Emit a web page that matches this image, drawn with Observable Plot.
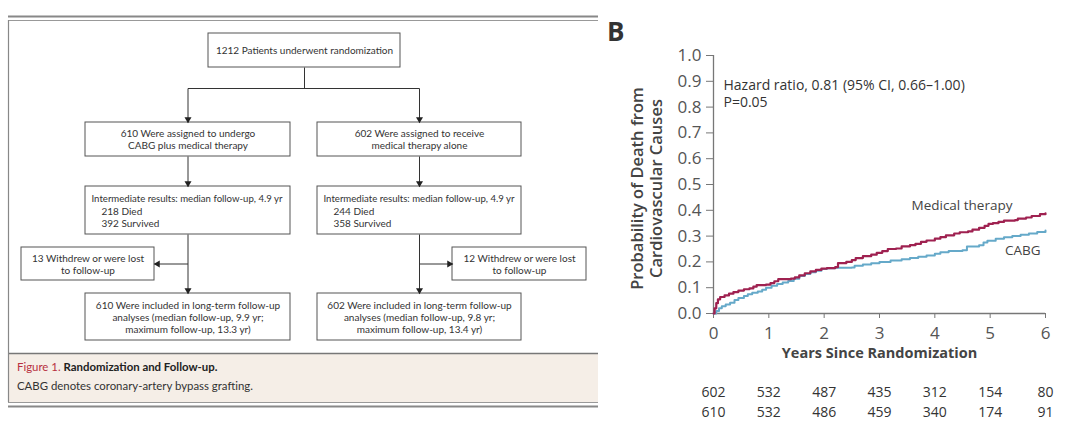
<!DOCTYPE html>
<html>
<head>
<meta charset="utf-8">
<script src="https://cdn.jsdelivr.net/npm/d3@7"></script>
<script src="https://cdn.jsdelivr.net/npm/@observablehq/plot@0.6"></script>
<style>
  html, body { margin: 0; padding: 0; background: #fff; }
  #wrap { position: relative; width: 1080px; height: 438px; overflow: hidden; background: #fff; }
  #panelA { position: absolute; left: 0; top: 0; }
  #panelB { position: absolute; left: 600px; top: 0; }
  .cap { position: absolute; left: 17px; font-family: Lato, "Open Sans", sans-serif; font-size: 11.4px; color: #333; white-space: nowrap; line-height: 1; }
  .cap .fig { color: #b8303f; }
  .cap b { color: #222; font-weight: 700; }
  #letterB { position: absolute; left: 607px; top: 18px; font-family: "Open Sans", sans-serif; font-weight: 700; font-size: 26px; color: #333; line-height: 1; }
</style>
</head>
<body>
<div id="wrap">
  <div id="panelA"></div>
  <div class="cap" id="cap1" style="top:361px"><span class="fig">Figure 1.</span> <b>Randomization and Follow-up.</b></div>
  <div class="cap" id="cap2" style="top:380px">CABG denotes coronary-artery bypass grafting.</div>
  <div id="letterB">B</div>
  <div id="panelB"></div>
</div>
<script>
// ---------------- DATA ----------------
// Panel B: cumulative probability of death from cardiovascular causes
const medYears = [0, 0.02, 0.05, 0.08, 0.12, 0.2, 0.28, 0.36, 0.45, 0.55, 0.65, 0.72, 0.78, 0.95, 1.03, 1.1, 1.17, 1.4, 1.47, 1.55, 1.65, 1.75, 1.85, 1.95, 2.05, 2.2, 2.25, 2.4, 2.5, 2.57, 2.7, 2.85, 2.95, 3.05, 3.15, 3.3, 3.4, 3.55, 3.65, 3.75, 3.85, 4.0, 4.1, 4.2, 4.35, 4.45, 4.6, 4.68, 4.8, 4.9, 4.97, 5.05, 5.15, 5.25, 5.45, 5.5, 5.65, 5.75, 5.9, 6.0];
const medProb  = [0, 0.02, 0.04, 0.055, 0.064, 0.07, 0.077, 0.083, 0.089, 0.094, 0.097, 0.104, 0.11, 0.112, 0.118, 0.125, 0.133, 0.135, 0.14, 0.148, 0.156, 0.163, 0.169, 0.174, 0.176, 0.18, 0.195, 0.2, 0.207, 0.215, 0.222, 0.228, 0.235, 0.242, 0.25, 0.252, 0.26, 0.265, 0.27, 0.278, 0.283, 0.29, 0.296, 0.303, 0.31, 0.315, 0.318, 0.325, 0.332, 0.34, 0.347, 0.35, 0.355, 0.36, 0.362, 0.368, 0.372, 0.378, 0.385, 0.388];
const cabgYears = [0, 0.05, 0.1, 0.15, 0.22, 0.3, 0.38, 0.45, 0.55, 0.62, 0.7, 0.8, 0.88, 0.95, 1.05, 1.15, 1.25, 1.35, 1.45, 1.55, 1.65, 1.75, 1.85, 1.95, 2.05, 2.2, 2.5, 2.55, 2.7, 2.85, 3.0, 3.2, 3.4, 3.55, 3.7, 3.85, 4.0, 4.1, 4.25, 4.5, 4.58, 4.8, 4.88, 4.95, 5.1, 5.25, 5.4, 5.55, 5.7, 5.85, 6.0];
const cabgProb  = [0, 0.01, 0.02, 0.028, 0.035, 0.042, 0.052, 0.06, 0.068, 0.075, 0.08, 0.085, 0.092, 0.1, 0.108, 0.114, 0.12, 0.126, 0.135, 0.145, 0.153, 0.16, 0.166, 0.172, 0.175, 0.177, 0.178, 0.185, 0.19, 0.195, 0.2, 0.205, 0.21, 0.215, 0.22, 0.225, 0.232, 0.237, 0.242, 0.245, 0.26, 0.265, 0.275, 0.282, 0.29, 0.296, 0.3, 0.305, 0.31, 0.316, 0.322];
const seriesNames = ["Medical therapy", "CABG"];
const xTicks = [0, 1, 2, 3, 4, 5, 6];
const yTicks = [0, 0.1, 0.2, 0.3, 0.4, 0.5, 0.6, 0.7, 0.8, 0.9, 1.0];
const atRiskYears = [0, 1, 2, 3, 4, 5, 6];
const atRiskMed  = [602, 532, 487, 435, 312, 154, 80];
const atRiskCABG = [610, 532, 486, 459, 340, 174, 91];
const annotation = "Hazard ratio, 0.81 (95% CI, 0.66\u20131.00)\nP=0.05";
const xTitle = "Years Since Randomization";
const yTitle = "Probability of Death from\nCardiovascular Causes";

// Panel A: flow diagram contents
const boxIds   = ["top", "assignL", "assignR", "midL", "midR", "wdL", "wdR", "finalL", "finalR"];
const boxTexts = [
  "1212 Patients underwent randomization",
  "610 Were assigned to undergo\nCABG plus medical therapy",
  "602 Were assigned to receive\nmedical therapy alone",
  "Intermediate results: median follow-up, 4.9 yr",
  "Intermediate results: median follow-up, 4.9 yr",
  "13 Withdrew or were lost\nto follow-up",
  "12 Withdrew or were lost\nto follow-up",
  "610 Were included in long-term follow-up\nanalyses (median follow-up, 9.9 yr;\nmaximum follow-up, 13.3 yr)",
  "602 Were included in long-term follow-up\nanalyses (median follow-up, 9.8 yr;\nmaximum follow-up, 13.4 yr)"
];
const boxSubTexts = ["", "", "", "218 Died\n392 Survived", "244 Died\n358 Survived", "", "", "", ""];

// ---------------- LAYOUT (diagram geometry, separate from data) ----------------
const cols = {
  center:   [208, 400],
  left:     [85, 290],
  right:    [317, 521],
  farLeft:  [21, 154],
  farRight: [452, 586]
};
const rows = { r0: [33, 67], r1: [122, 156], r2: [186, 234], r3: [247, 280], r4: [293, 340] };
const boxPlace = {
  top: ["center", "r0"], assignL: ["left", "r1"], assignR: ["right", "r1"],
  midL: ["left", "r2"], midR: ["right", "r2"], wdL: ["farLeft", "r3"], wdR: ["farRight", "r3"],
  finalL: ["left", "r4"], finalR: ["right", "r4"]
};
const splitY = 88;
const frame = { left: 8, right: 598, top1: 16, top2: 20, bandTop: 353, bandBottom: 402, bottom2: 406 };

const boxes = boxIds.map((id, i) => {
  const [c, r] = boxPlace[id];
  const [x1, x2] = cols[c], [y1, y2] = rows[r];
  return { id, x1, x2, y1, y2, cx: (x1 + x2) / 2, cy: (y1 + y2) / 2, text: boxTexts[i], sub: boxSubTexts[i] };
});
const B = Object.fromEntries(boxes.map(b => [b.id, b]));
const cxL = B.assignL.cx, cxR = B.assignR.cx, cxT = B.top.cx;
const branchY = B.wdL.cy;

const plainLinks = [
  { x1: cxT, y1: B.top.y2, x2: cxT, y2: splitY },
  { x1: cxL, y1: splitY, x2: cxR, y2: splitY }
];
const arrowLinks = [
  { x1: cxL, y1: splitY, x2: cxL, y2: B.assignL.y1, dir: "down" },
  { x1: cxR, y1: splitY, x2: cxR, y2: B.assignR.y1, dir: "down" },
  { x1: cxL, y1: B.assignL.y2, x2: cxL, y2: B.midL.y1, dir: "down" },
  { x1: cxR, y1: B.assignR.y2, x2: cxR, y2: B.midR.y1, dir: "down" },
  { x1: cxL, y1: B.midL.y2, x2: cxL, y2: B.finalL.y1, dir: "down" },
  { x1: cxR, y1: B.midR.y2, x2: cxR, y2: B.finalR.y1, dir: "down" },
  { x1: cxL, y1: branchY, x2: B.wdL.x2, y2: branchY, dir: "left" },
  { x1: cxR, y1: branchY, x2: B.wdR.x1, y2: branchY, dir: "right" }
];
const headOff = 3.2;
const dirVec = { down: [0, 1, 180], left: [-1, 0, -90], right: [1, 0, 90] };
const heads = arrowLinks.map(a => {
  const [dx, dy, rot] = dirVec[a.dir];
  return { x: a.x2 - dx * headOff, y: a.y2 - dy * headOff, rot };
});

const flowFont = "Lato, 'Open Sans', sans-serif";
const centered = boxes.filter(b => !b.id.startsWith("mid"));
const mids = boxes.filter(b => b.id.startsWith("mid"));

const flow = Plot.plot({
  width: 600, height: 438, margin: 0,
  x: { type: "identity", axis: null }, y: { type: "identity", axis: null },
  style: { fontFamily: flowFont, fontSize: "10px", color: "#333", background: "transparent" },
  marks: [
    Plot.rect([frame], { x1: "left", x2: "right", y1: "bandTop", y2: "bandBottom", fill: "#f5eee7" }),
    Plot.ruleY([frame.top1], { x1: frame.left, x2: frame.right, stroke: "#888", strokeWidth: 2 }),
    Plot.ruleY([frame.top2], { x1: frame.left, x2: frame.right, stroke: "#999", strokeWidth: 1 }),
    Plot.ruleY([frame.bandTop], { x1: frame.left, x2: frame.right, stroke: "#777", strokeWidth: 1.5 }),
    Plot.ruleY([frame.bandBottom], { x1: frame.left, x2: frame.right, stroke: "#999", strokeWidth: 1 }),
    Plot.ruleY([frame.bottom2], { x1: frame.left, x2: frame.right, stroke: "#888", strokeWidth: 2 }),
    Plot.ruleX([frame.left], { y1: frame.top2, y2: frame.bandBottom, stroke: "#888", strokeWidth: 1.2 }),
    Plot.rect(boxes, { x1: "x1", x2: "x2", y1: "y1", y2: "y2", fill: "#fff", stroke: "#555", strokeWidth: 1 }),
    Plot.link(plainLinks, { x1: "x1", y1: "y1", x2: "x2", y2: "y2", stroke: "#333", strokeWidth: 1 }),
    Plot.link(arrowLinks, { x1: "x1", y1: "y1", x2: "x2", y2: "y2", stroke: "#333", strokeWidth: 1 }),
    Plot.dot(heads, { x: "x", y: "y", rotate: "rot", symbol: "triangle", r: 2.6, fill: "#222", stroke: "none" }),
    Plot.text(centered, { x: "cx", y: "cy", text: "text", textAnchor: "middle", lineAnchor: "middle", lineHeight: 1.18, fill: "#333" }),
    Plot.text(mids, { x: d => d.x1 + 6, y: d => d.y1 + 12, text: "text", textAnchor: "start", lineAnchor: "middle", fontSize: 9.6, fill: "#333" }),
    Plot.text(mids, { x: d => d.x1 + 16, y: d => d.y1 + 31, text: "sub", textAnchor: "start", lineAnchor: "middle", lineHeight: 1.2, fill: "#333" })
  ]
});
document.getElementById("panelA").appendChild(flow);

// ---------------- Panel B chart ----------------
const medData = medYears.map((t, i) => ({ t, p: medProb[i], group: seriesNames[0] }));
const cabgData = cabgYears.map((t, i) => ({ t, p: cabgProb[i], group: seriesNames[1] }));
const riskTable = atRiskYears.map((t, i) => ({ t, med: atRiskMed[i], cabg: atRiskCABG[i] }));
const medColor = "#9f2150", cabgColor = "#65a9c9";
const chartFont = "'Open Sans', 'Noto Sans', sans-serif";

const km = Plot.plot({
  width: 480, height: 438,
  marginLeft: 113, marginRight: 35, marginTop: 55, marginBottom: 125,
  x: { domain: [0, 6] },
  y: { domain: [0, 1] },
  style: { fontFamily: chartFont, fontSize: "17px", color: "#555", background: "transparent", overflow: "visible" },
  marks: [
    Plot.axisX({ ticks: xTicks, tickFormat: d => String(d), tickSize: 5, tickPadding: 8, label: null, stroke: "#777", fill: "#555", fontSize: 17 }),
    Plot.axisY({ ticks: yTicks, tickSize: 7, tickPadding: 5, label: null, tickFormat: d => d.toFixed(1), stroke: "#777", fill: "#555", fontSize: 17 }),
    Plot.ruleX([0], { stroke: "#777", strokeWidth: 1.3 }),
    Plot.ruleY([0], { stroke: "#777", strokeWidth: 1.3 }),
    Plot.line(cabgData, { x: "t", y: "p", curve: "step-after", stroke: cabgColor, strokeWidth: 2 }),
    Plot.line(medData, { x: "t", y: "p", curve: "step-after", stroke: medColor, strokeWidth: 2.2 }),
    Plot.text(medData, Plot.selectLast({ x: "t", y: "p", text: "group", textAnchor: "end", dx: -33, dy: -8, fontSize: 13.5, fill: "#444" })),
    Plot.text(cabgData, Plot.selectLast({ x: "t", y: "p", text: "group", textAnchor: "end", dx: -5, dy: 20, fontSize: 13.5, fill: "#444" })),
    Plot.text([annotation], { frameAnchor: "top-left", dx: 10, dy: 37.5, textAnchor: "start", lineAnchor: "middle", lineHeight: 1.22, fontSize: 14, fill: "#333" }),
    Plot.text([xTitle], { frameAnchor: "bottom", dy: 44, fontSize: 14.5, fontWeight: "bold", fill: "#444" }),
    Plot.text([yTitle], { frameAnchor: "left", dx: -67, dy: 4, rotate: -90, textAnchor: "middle", lineAnchor: "middle", lineHeight: 1.15, fontSize: 16.5, fontWeight: 600, fill: "#444" }),
    Plot.text(riskTable, { x: "t", text: "med", frameAnchor: "bottom", dy: 83, fontSize: 14, fill: "#333" }),
    Plot.text(riskTable, { x: "t", text: "cabg", frameAnchor: "bottom", dy: 103, fontSize: 14, fill: "#333" })
  ]
});
document.getElementById("panelB").appendChild(km);
</script>
</body>
</html>
